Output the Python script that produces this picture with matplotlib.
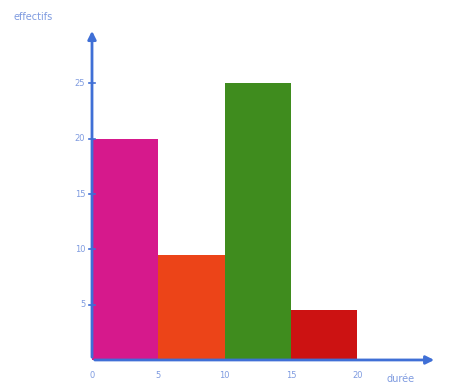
import matplotlib.pyplot as plt

# histogram classes (left edge) and counts
edges = [0, 5, 10, 15, 20]
counts = [20, 9.5, 25, 4.5]
colors = ["#d6198c", "#ec4418", "#3f8c1e", "#cc1212"]
yticks = [5, 10, 15, 20, 25]

axis_col = "#3f6fd6"
text_col = "#7f9be0"

fig = plt.figure(figsize=(4.6, 3.85), dpi=100)
ax = fig.add_axes([0.2, 0.065, 0.75, 0.862])

ax.bar(edges[:-1], counts, width=5, align="edge", color=colors, edgecolor="none")

ax.set_xlim(0, 26)
ax.set_ylim(0, 30)
for s in ax.spines.values():
    s.set_visible(False)
ax.set_xticks([])
ax.set_yticks([])

# axes as arrows
ax.annotate("", xy=(26, 0), xytext=(0, 0),
            arrowprops=dict(arrowstyle="-|>", color=axis_col, lw=2, mutation_scale=12),
            annotation_clip=False)
ax.annotate("", xy=(0, 30), xytext=(0, 0),
            arrowprops=dict(arrowstyle="-|>", color=axis_col, lw=2, mutation_scale=12),
            annotation_clip=False)

for x in edges:
    ax.text(x, -1.0, str(x), color=text_col, fontsize=6, ha="center", va="top")
for y in yticks:
    ax.plot([-0.25, 0.25], [y, y], color=axis_col, lw=1.2, clip_on=False)
    ax.text(-0.5, y, str(y), color=text_col, fontsize=6, ha="right", va="center")

fig.text(0.03, 0.955, "effectifs", color=text_col, fontsize=7, ha="left", va="center")
fig.text(0.84, 0.015, "durée", color=text_col, fontsize=7, ha="left", va="center")

fig.savefig("out.png", dpi=100)
